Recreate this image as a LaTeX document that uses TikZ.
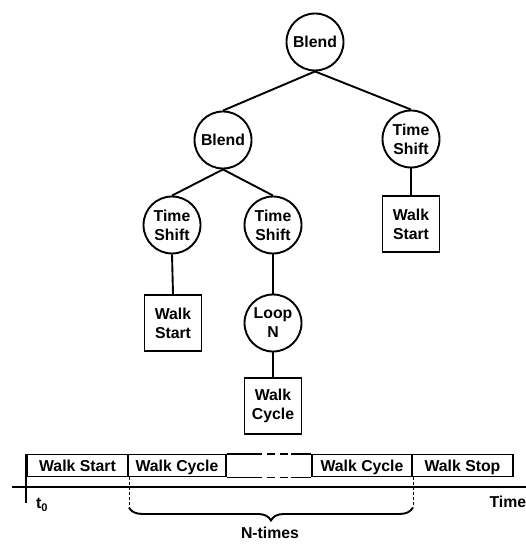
\documentclass[tikz,border=0pt]{standalone}
\usepackage{fontspec}
\setmainfont{Liberation Sans}
\usetikzlibrary{decorations.pathreplacing}

\tikzset{
  op/.style={circle, draw, line width=1.9pt, minimum size=57pt, inner sep=0pt},
  leaf/.style={rectangle, draw, line width=1.9pt, minimum width=57pt, minimum height=56pt, inner sep=0pt},
  slot/.style={rectangle, draw, line width=1.9pt, minimum height=22pt, inner sep=0pt, text height=11.3pt, text depth=0pt},
  link/.style={line width=1.9pt},
  guide/.style={line width=0.8pt, dash pattern=on 3pt off 2pt}
}

\begin{document}
\begin{tikzpicture}[x=1pt,y=-1pt,
    every node/.style={font=\fontsize{15.8}{19}\selectfont\bfseries, align=center}]
    \useasboundingbox (0,0) rectangle (526,545);
    % tree
    \node[op] (blendA) at (315,42) {Blend};
    \node[op] (blendB) at (223,140) {Blend};
    \node[op] (shiftR) at (411,139) {Time\\Shift};
    \node[leaf] (startR) at (411,224) {Walk\\Start};
    \node[op] (shiftL) at (172,225) {Time\\Shift};
    \node[op] (shiftM) at (273,225) {Time\\Shift};
    \node[leaf] (startL) at (173,323) {Walk\\Start};
    \node[op] (loopN) at (273,323) {Loop\\N};
    \node[leaf] (cycle) at (273,406) {Walk\\Cycle};
    \draw[link] (blendA.south) -- (blendB.north);
    \draw[link] (blendA.south) -- (shiftR.north);
    \draw[link] (shiftR.south) -- (startR.north);
    \draw[link] (blendB.south) -- (shiftL.north);
    \draw[link] (blendB.south) -- (shiftM.north);
    \draw[link] (shiftL.south) -- (startL.north);
    \draw[link] (shiftM.south) -- (loopN.north);
    \draw[link] (loopN.south) -- (cycle.north);
    % timeline
    \node[slot, minimum width=101pt] (tStart) at (77.5,465.5) {Walk Start};
    \node[slot, minimum width=98pt] (tCycleA) at (177,465.5) {Walk Cycle};
    \node[slot, minimum width=100pt] (tCycleB) at (362,465.5) {Walk Cycle};
    \node[slot, minimum width=101pt] (tStop) at (462.5,465.5) {Walk Stop};
    \draw[link] (tCycleA.north east) -- ++(27,0) coordinate (gapNA);
    \draw[link, dash pattern=on 8pt off 5pt] (gapNA) -- ++(37,0) coordinate (gapNB);
    \draw[link] (gapNB) -- (tCycleB.north west);
    \draw[link] (tCycleA.south east) -- ++(27,0) coordinate (gapSA);
    \draw[link, dash pattern=on 8pt off 5pt] (gapSA) -- ++(37,0) coordinate (gapSB);
    \draw[link] (gapSB) -- (tCycleB.south west);
    \coordinate (axisL) at (12,487);
    \coordinate (axisR) at (526,487);
    \draw[link] (axisL) -- (axisR);
    \draw[link] (tStart.north west) -- ++(0,49);
    \node (tzero) at (42,505) {t\textsubscript{0}};
    \node[anchor=west] (timeLbl) at (486,502) {Time};
    \draw[guide] (tStart.south east) -- ++(0,30) coordinate (braceL);
    \draw[guide] (tCycleB.south east) -- ++(0,30) coordinate (braceR);
    \draw[link, decorate, decoration={brace, amplitude=13pt}] (braceR) -- (braceL);
    \node (ntimes) at (270,533) {N-times};
\end{tikzpicture}
\end{document}
